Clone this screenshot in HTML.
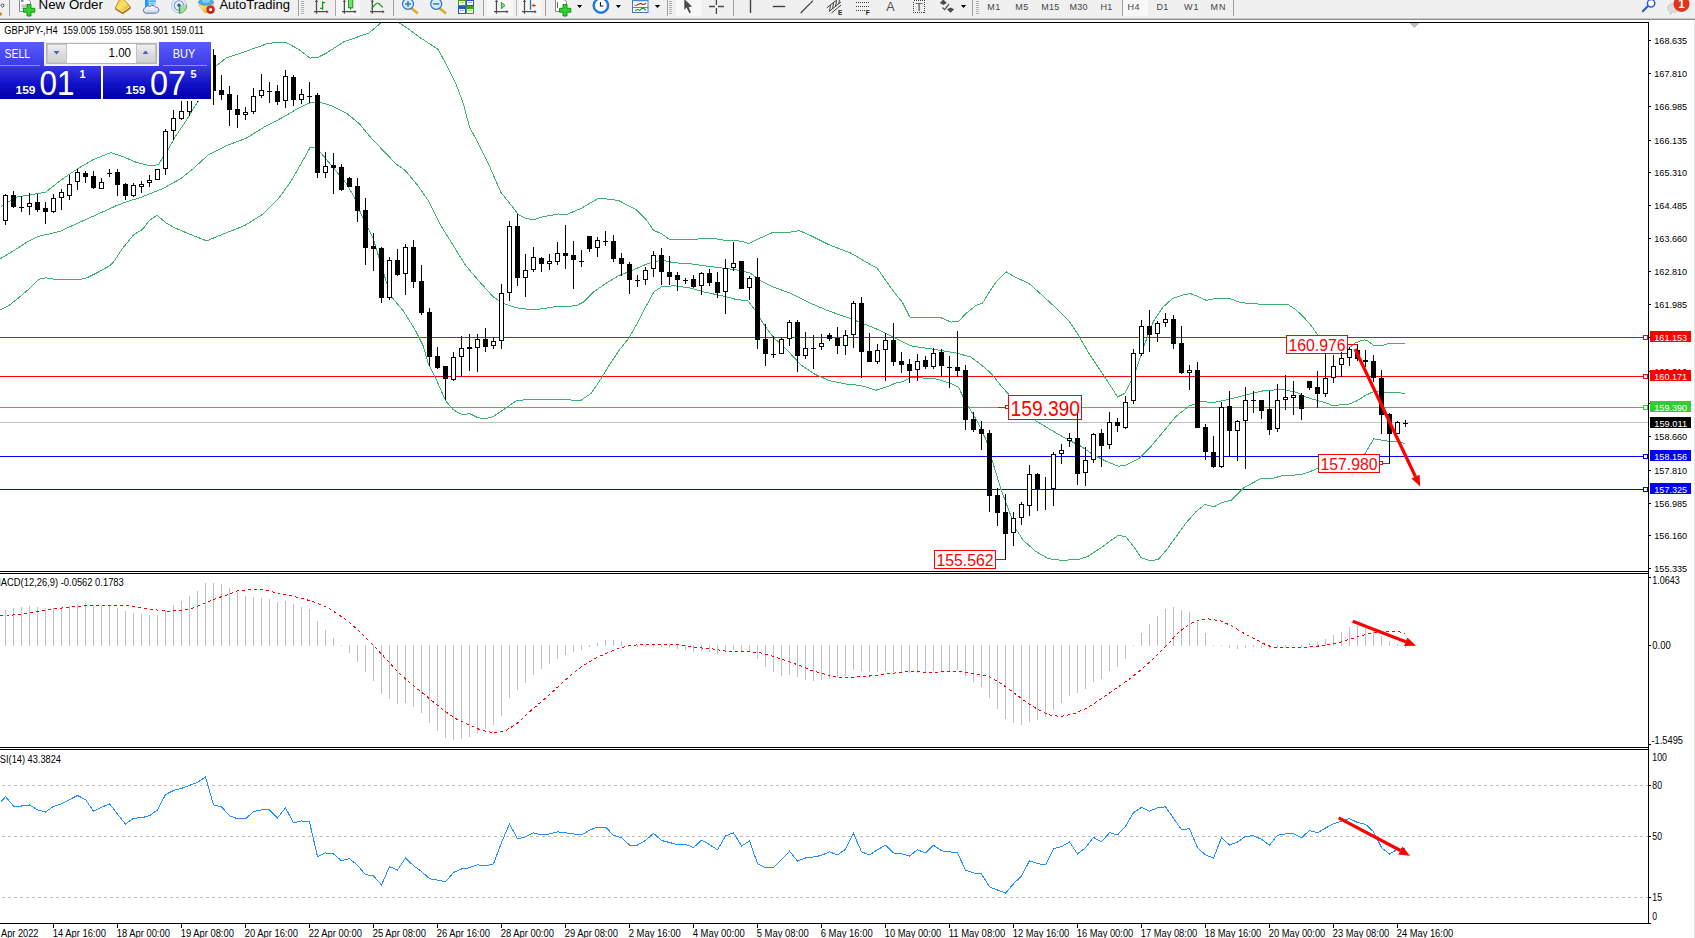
<!DOCTYPE html>
<html><head><meta charset="utf-8"><title>GBPJPY H4</title>
<style>
html,body{margin:0;padding:0;background:#fff;overflow:hidden}
svg{display:block;font-family:"Liberation Sans",sans-serif}
text{font-family:"Liberation Sans",sans-serif}
</style></head><body>
<svg width="1695" height="938" viewBox="0 0 1695 938">
<rect x="0" y="0" width="1695" height="938" fill="#fff" />
<g shape-rendering="crispEdges">
<rect x="0" y="422" width="1648" height="1" fill="#c0c0c0" />
<rect x="0" y="337" width="1648" height="1" fill="#ff0000" />
<rect x="0" y="376" width="1648" height="1" fill="#ff0000" />
<rect x="0" y="407" width="1648" height="1" fill="#32cd32" />
<rect x="0" y="456" width="1648" height="1" fill="#0000ff" />
<rect x="0" y="489" width="1648" height="1" fill="#0000ff" />
<g shape-rendering="crispEdges">
<polyline points="0.5,207.2 15.5,197.2 45.6,192.2 63.2,178.4 78.2,168.4 93.2,159.6 110.8,152.6 120.8,155.8 135.8,162.1 150.9,165.9 158.4,164.6 165.9,153.3 175.9,135.8 186.0,120.8 193.5,108.2 198.5,100.7 206.5,82.5 214.8,66.9 226.1,58.1 241.1,53.1 268.7,43.1 286.2,42.6 298.7,49.3 310.0,58.1 317.5,57.6 326.3,53.1 343.9,41.8 368.9,33.0 381.5,22.5 386.5,19.5 393.5,19.5 398.9,22.5 410.6,30.5 420.6,38.0 438.1,49.3 448.2,68.1 455.7,83.2 463.2,103.2 469.5,127.0 478.2,143.3 488.3,163.4 500.8,192.2 510.8,204.7 518.3,214.7 525.9,218.5 533.4,219.7 543.4,216.7 558.4,214.0 566.0,214.7 581.0,208.5 597.3,198.9 606.1,198.9 618.6,200.5 636.1,209.7 646.2,219.7 653.7,230.5 661.2,233.5 670.0,239.8 688.8,239.3 713.8,238.5 726.4,240.5 741.4,241.1 748.9,243.6 756.4,239.8 771.5,233.0 788.1,232.6 799.4,230.6 810.7,235.6 828.2,244.4 850.8,253.1 865.8,261.9 877.1,268.2 885.9,280.7 895.9,294.5 902.2,302.0 909.7,317.0 921.0,317.8 941.0,317.8 951.0,322.1 958.5,321.6 966.1,313.3 976.1,305.3 982.4,303.3 988.6,293.2 996.1,282.0 1006.2,271.9 1016.2,277.7 1028.7,283.2 1041.3,294.5 1056.3,308.3 1068.8,320.8 1078.8,335.8 1088.9,353.4 1098.9,368.4 1108.9,383.5 1117.7,397.0 1125.0,393.2 1130.7,381.9 1136.4,368.7 1143.9,346.0 1153.4,321.5 1162.8,307.3 1172.2,298.8 1181.7,295.4 1190.2,293.5 1196.8,296.0 1206.2,300.3 1213.8,298.8 1230.8,298.8 1240.2,302.6 1259.1,304.1 1287.4,304.1 1295.0,309.2 1302.5,315.8 1310.1,324.3 1317.6,334.7 1325.5,344.5 1333.5,350.5 1341.5,351.5 1348.6,348.4 1355.0,343.1 1360.4,341.0 1364.6,339.7 1367.8,341.0 1373.1,345.0 1383.8,345.0 1387.0,343.9 1405.1,343.9" fill="none" stroke="#3cb371" stroke-width="1" />
<polyline points="0.5,258.6 14.7,250.1 26.0,242.7 37.4,236.6 60.0,231.4 68.5,227.4 85.6,219.6 99.7,213.3 116.7,205.5 128.1,201.2 138.3,198.4 163.4,188.4 181.0,178.4 193.5,168.4 208.5,154.6 226.1,145.8 246.1,138.3 266.2,125.8 281.2,118.2 296.2,109.5 308.8,103.2 318.8,102.0 331.3,105.7 346.4,113.2 358.9,123.3 371.4,138.3 380.5,147.8 395.5,163.4 405.6,170.9 418.1,185.9 428.2,200.5 440.8,225.6 453.3,245.6 465.8,265.7 480.9,283.2 493.4,297.0 503.4,303.3 515.9,307.8 533.5,310.0 553.5,307.0 576.1,305.8 583.6,302.0 593.6,292.0 606.2,283.2 618.7,275.7 631.2,270.7 648.8,263.2 661.3,260.1 673.8,262.7 691.4,263.9 708.9,266.4 724.0,268.2 741.5,270.7 750.5,273.2 760.5,280.7 773.1,287.0 790.6,293.2 810.7,303.3 828.2,310.8 848.3,317.8 865.8,324.6 880.9,330.8 895.9,338.3 910.9,345.9 931.0,348.9 956.0,352.9 971.1,357.1 981.1,364.7 991.1,373.4 1001.2,386.0 1011.2,397.2 1022.5,408.5 1035.8,420.7 1050.9,430.0 1068.4,440.0 1081.0,446.3 1093.5,455.0 1106.0,461.3 1118.5,466.3 1126.1,465.1 1138.6,458.8 1151.1,446.3 1163.7,431.2 1176.2,416.2 1188.7,406.2 1201.3,401.7 1213.8,402.4 1226.3,399.9 1246.4,394.9 1261.4,391.1 1281.5,389.4 1296.5,392.4 1306.5,397.4 1324.1,402.4 1333.6,405.8 1341.5,404.7 1349.7,403.9 1357.2,400.7 1365.7,395.3 1373.1,391.8 1383.8,391.8 1387.0,392.9 1400.9,392.9 1405.1,394.1" fill="none" stroke="#3cb371" stroke-width="1" />
<polyline points="0.5,309.9 9.0,305.4 18.9,297.6 28.9,289.1 38.8,279.2 45.9,277.8 58.6,279.9 78.5,279.9 87.0,277.8 99.7,271.4 109.7,265.7 113.9,261.5 122.4,248.7 133.8,234.5 142.3,229.6 149.4,220.3 157.1,215.4 166.4,223.2 174.9,227.9 190.5,234.5 206.8,240.9 220.2,235.2 240.1,227.4 246.1,224.8 263.7,213.5 278.7,198.4 291.2,180.9 301.3,163.4 310.0,147.6 315.0,147.6 321.3,153.3 333.8,168.4 346.4,183.4 356.4,201.0 360.5,213.0 373.1,238.1 380.6,263.2 390.6,295.7 403.2,310.8 415.7,330.8 423.2,345.9 428.2,363.4 435.7,378.4 445.8,401.0 453.3,409.8 462.1,414.8 469.6,413.5 477.1,417.3 484.6,419.0 493.4,416.5 503.4,409.8 515.9,401.0 531.0,399.0 553.5,399.7 581.1,400.2 591.1,393.5 601.2,378.4 608.7,365.9 618.7,350.9 628.7,338.3 638.7,320.8 646.3,305.8 653.8,292.0 661.3,287.0 673.8,285.7 691.4,288.2 703.9,292.0 721.5,295.7 736.5,299.5 748.0,300.8 755.5,310.8 763.1,323.3 773.1,337.1 785.6,348.4 800.7,364.7 815.7,374.7 830.7,381.0 845.8,384.0 860.8,385.5 875.8,390.2 885.9,387.2 895.9,383.0 903.4,381.5 910.9,377.2 936.0,378.9 951.0,383.5 958.5,387.2 965.9,402.5 975.7,418.7 985.7,438.8 993.2,463.8 1000.8,488.9 1008.3,508.9 1015.8,529.0 1023.3,540.3 1035.8,551.5 1048.4,558.6 1060.9,560.3 1078.4,559.6 1088.5,556.0 1101.0,547.8 1111.0,540.3 1118.5,535.2 1126.1,537.0 1133.6,546.5 1141.1,557.8 1151.1,561.1 1158.6,559.1 1166.2,550.3 1176.2,536.5 1186.2,522.7 1196.2,511.4 1205.0,504.4 1213.8,506.9 1221.3,502.7 1231.3,500.2 1243.9,487.6 1261.4,478.3 1271.4,478.9 1281.5,475.8 1301.5,474.6 1314.0,470.1 1319.0,467.6 1340.5,462.5 1355.5,458.5 1364.8,453.8 1373.8,438.7 1378.6,439.7 1387.2,441.0 1397.3,441.0 1405.3,444.0" fill="none" stroke="#3cb371" stroke-width="1" />
</g>
</g>
<rect x="1008.5" y="395.5" width="73" height="24" fill="#fff" stroke="#ff0000" stroke-width="1" shape-rendering="crispEdges"/>
<text x="1010.5" y="415.5" font-size="22" fill="#ff0000" textLength="69.5" lengthAdjust="spacingAndGlyphs" >159.390</text>
<g shape-rendering="crispEdges">
<rect x="998" y="407" width="8" height="1" fill="#ff0000" />
<rect x="1005.5" y="405.5" width="3" height="3" fill="#fff" stroke="#ff0000"/>
</g>
<rect x="934.5" y="550.5" width="61" height="18" fill="#fff" stroke="#ff0000" stroke-width="1" shape-rendering="crispEdges"/>
<text x="936.5" y="565.6" font-size="16.5" fill="#ff0000" textLength="57" lengthAdjust="spacingAndGlyphs" >155.562</text>
<g shape-rendering="crispEdges">
<rect x="996" y="559" width="10" height="1" fill="#ff0000" />
</g>
<rect x="1286.5" y="335.5" width="61" height="18" fill="#fff" stroke="#ff0000" stroke-width="1" shape-rendering="crispEdges"/>
<text x="1288.5" y="350.6" font-size="16.5" fill="#ff0000" textLength="57" lengthAdjust="spacingAndGlyphs" >160.976</text>
<g shape-rendering="crispEdges">
<rect x="1348" y="344" width="10" height="1" fill="#ff0000" />
</g>
<rect x="1318.5" y="454.5" width="61" height="18" fill="#fff" stroke="#ff0000" stroke-width="1" shape-rendering="crispEdges"/>
<text x="1320.5" y="469.6" font-size="16.5" fill="#ff0000" textLength="57" lengthAdjust="spacingAndGlyphs" >157.980</text>
<g shape-rendering="crispEdges">
<rect x="1380" y="463" width="10" height="1" fill="#ff0000" />
<rect x="1379.5" y="461.5" width="3" height="3" fill="#fff" stroke="#ff0000"/>
</g>
<g shape-rendering="crispEdges">
<rect x="5" y="194" width="1" height="31" fill="#000" />
<rect x="3" y="195" width="5" height="26" fill="#000" />
<rect x="4" y="196" width="3" height="24" fill="#fff" />
<rect x="13" y="191" width="1" height="17" fill="#000" />
<rect x="11" y="195" width="5" height="12" fill="#000" />
<rect x="21" y="196" width="1" height="16" fill="#000" />
<rect x="19" y="207" width="5" height="1" fill="#000" />
<rect x="29" y="193" width="1" height="22" fill="#000" />
<rect x="27" y="203" width="5" height="4" fill="#000" />
<rect x="28" y="204" width="3" height="2" fill="#fff" />
<rect x="37" y="194" width="1" height="18" fill="#000" />
<rect x="35" y="202" width="5" height="8" fill="#000" />
<rect x="45" y="202" width="1" height="22" fill="#000" />
<rect x="43" y="208" width="5" height="4" fill="#000" />
<rect x="53" y="194" width="1" height="19" fill="#000" />
<rect x="51" y="198" width="5" height="14" fill="#000" />
<rect x="52" y="199" width="3" height="12" fill="#fff" />
<rect x="61" y="189" width="1" height="21" fill="#000" />
<rect x="59" y="192" width="5" height="6" fill="#000" />
<rect x="60" y="193" width="3" height="4" fill="#fff" />
<rect x="69" y="175" width="1" height="25" fill="#000" />
<rect x="67" y="184" width="5" height="12" fill="#000" />
<rect x="68" y="185" width="3" height="10" fill="#fff" />
<rect x="77" y="169" width="1" height="21" fill="#000" />
<rect x="75" y="172" width="5" height="10" fill="#000" />
<rect x="76" y="173" width="3" height="8" fill="#fff" />
<rect x="85" y="171" width="1" height="12" fill="#000" />
<rect x="83" y="173" width="5" height="4" fill="#000" />
<rect x="93" y="171" width="1" height="18" fill="#000" />
<rect x="91" y="176" width="5" height="12" fill="#000" />
<rect x="101" y="178" width="1" height="11" fill="#000" />
<rect x="99" y="182" width="5" height="7" fill="#000" />
<rect x="100" y="183" width="3" height="5" fill="#fff" />
<rect x="109" y="169" width="1" height="8" fill="#000" />
<rect x="107" y="173" width="5" height="1" fill="#000" />
<rect x="117" y="169" width="1" height="27" fill="#000" />
<rect x="115" y="172" width="5" height="13" fill="#000" />
<rect x="125" y="183" width="1" height="17" fill="#000" />
<rect x="123" y="184" width="5" height="12" fill="#000" />
<rect x="133" y="183" width="1" height="14" fill="#000" />
<rect x="131" y="185" width="5" height="11" fill="#000" />
<rect x="132" y="186" width="3" height="9" fill="#fff" />
<rect x="141" y="181" width="1" height="12" fill="#000" />
<rect x="139" y="184" width="5" height="3" fill="#000" />
<rect x="140" y="185" width="3" height="1" fill="#fff" />
<rect x="149" y="175" width="1" height="12" fill="#000" />
<rect x="147" y="180" width="5" height="3" fill="#000" />
<rect x="148" y="181" width="3" height="1" fill="#fff" />
<rect x="157" y="169" width="1" height="11" fill="#000" />
<rect x="155" y="169" width="5" height="11" fill="#000" />
<rect x="156" y="170" width="3" height="9" fill="#fff" />
<rect x="165" y="129" width="1" height="46" fill="#000" />
<rect x="163" y="131" width="5" height="38" fill="#000" />
<rect x="164" y="132" width="3" height="36" fill="#fff" />
<rect x="173" y="110" width="1" height="30" fill="#000" />
<rect x="171" y="118" width="5" height="13" fill="#000" />
<rect x="172" y="119" width="3" height="11" fill="#fff" />
<rect x="181" y="101" width="1" height="19" fill="#000" />
<rect x="179" y="111" width="5" height="8" fill="#000" />
<rect x="180" y="112" width="3" height="6" fill="#fff" />
<rect x="189" y="88" width="1" height="28" fill="#000" />
<rect x="187" y="100" width="5" height="12" fill="#000" />
<rect x="188" y="101" width="3" height="10" fill="#fff" />
<rect x="197" y="70" width="1" height="32" fill="#000" />
<rect x="195" y="78" width="5" height="22" fill="#000" />
<rect x="196" y="79" width="3" height="20" fill="#fff" />
<rect x="205" y="52" width="1" height="28" fill="#000" />
<rect x="203" y="56" width="5" height="22" fill="#000" />
<rect x="204" y="57" width="3" height="20" fill="#fff" />
<rect x="213" y="49" width="1" height="56" fill="#000" />
<rect x="211" y="55" width="5" height="36" fill="#000" />
<rect x="221" y="75" width="1" height="25" fill="#000" />
<rect x="219" y="90" width="5" height="5" fill="#000" />
<rect x="229" y="86" width="1" height="40" fill="#000" />
<rect x="227" y="94" width="5" height="16" fill="#000" />
<rect x="237" y="95" width="1" height="33" fill="#000" />
<rect x="235" y="109" width="5" height="6" fill="#000" />
<rect x="245" y="107" width="1" height="13" fill="#000" />
<rect x="243" y="112" width="5" height="3" fill="#000" />
<rect x="244" y="113" width="3" height="1" fill="#fff" />
<rect x="253" y="88" width="1" height="26" fill="#000" />
<rect x="251" y="96" width="5" height="16" fill="#000" />
<rect x="252" y="97" width="3" height="14" fill="#fff" />
<rect x="261" y="74" width="1" height="24" fill="#000" />
<rect x="259" y="90" width="5" height="6" fill="#000" />
<rect x="260" y="91" width="3" height="4" fill="#fff" />
<rect x="269" y="82" width="1" height="21" fill="#000" />
<rect x="267" y="91" width="5" height="1" fill="#000" />
<rect x="277" y="85" width="1" height="20" fill="#000" />
<rect x="275" y="91" width="5" height="11" fill="#000" />
<rect x="285" y="70" width="1" height="38" fill="#000" />
<rect x="283" y="76" width="5" height="25" fill="#000" />
<rect x="284" y="77" width="3" height="23" fill="#fff" />
<rect x="293" y="75" width="1" height="31" fill="#000" />
<rect x="291" y="77" width="5" height="23" fill="#000" />
<rect x="301" y="89" width="1" height="15" fill="#000" />
<rect x="299" y="94" width="5" height="6" fill="#000" />
<rect x="300" y="95" width="3" height="4" fill="#fff" />
<rect x="309" y="82" width="1" height="21" fill="#000" />
<rect x="307" y="96" width="5" height="1" fill="#000" />
<rect x="317" y="93" width="1" height="85" fill="#000" />
<rect x="315" y="95" width="5" height="78" fill="#000" />
<rect x="325" y="152" width="1" height="26" fill="#000" />
<rect x="323" y="166" width="5" height="7" fill="#000" />
<rect x="324" y="167" width="3" height="5" fill="#fff" />
<rect x="333" y="153" width="1" height="41" fill="#000" />
<rect x="331" y="165" width="5" height="3" fill="#000" />
<rect x="341" y="164" width="1" height="27" fill="#000" />
<rect x="339" y="167" width="5" height="23" fill="#000" />
<rect x="349" y="177" width="1" height="10" fill="#000" />
<rect x="347" y="178" width="5" height="9" fill="#000" />
<rect x="357" y="178" width="1" height="44" fill="#000" />
<rect x="355" y="186" width="5" height="25" fill="#000" />
<rect x="365" y="198" width="1" height="67" fill="#000" />
<rect x="363" y="210" width="5" height="38" fill="#000" />
<rect x="373" y="233" width="1" height="38" fill="#000" />
<rect x="371" y="246" width="5" height="3" fill="#000" />
<rect x="381" y="247" width="1" height="56" fill="#000" />
<rect x="379" y="248" width="5" height="50" fill="#000" />
<rect x="389" y="257" width="1" height="43" fill="#000" />
<rect x="387" y="260" width="5" height="38" fill="#000" />
<rect x="388" y="261" width="3" height="36" fill="#fff" />
<rect x="397" y="249" width="1" height="27" fill="#000" />
<rect x="395" y="260" width="5" height="15" fill="#000" />
<rect x="405" y="244" width="1" height="51" fill="#000" />
<rect x="403" y="247" width="5" height="27" fill="#000" />
<rect x="404" y="248" width="3" height="25" fill="#fff" />
<rect x="413" y="240" width="1" height="48" fill="#000" />
<rect x="411" y="247" width="5" height="35" fill="#000" />
<rect x="421" y="265" width="1" height="50" fill="#000" />
<rect x="419" y="281" width="5" height="32" fill="#000" />
<rect x="429" y="308" width="1" height="58" fill="#000" />
<rect x="427" y="312" width="5" height="45" fill="#000" />
<rect x="437" y="347" width="1" height="22" fill="#000" />
<rect x="435" y="356" width="5" height="12" fill="#000" />
<rect x="445" y="366" width="1" height="34" fill="#000" />
<rect x="443" y="366" width="5" height="13" fill="#000" />
<rect x="453" y="352" width="1" height="29" fill="#000" />
<rect x="451" y="357" width="5" height="23" fill="#000" />
<rect x="452" y="358" width="3" height="21" fill="#fff" />
<rect x="461" y="336" width="1" height="40" fill="#000" />
<rect x="459" y="348" width="5" height="9" fill="#000" />
<rect x="460" y="349" width="3" height="7" fill="#fff" />
<rect x="469" y="334" width="1" height="37" fill="#000" />
<rect x="467" y="347" width="5" height="2" fill="#000" />
<rect x="477" y="334" width="1" height="38" fill="#000" />
<rect x="475" y="339" width="5" height="9" fill="#000" />
<rect x="476" y="340" width="3" height="7" fill="#fff" />
<rect x="485" y="328" width="1" height="24" fill="#000" />
<rect x="483" y="339" width="5" height="8" fill="#000" />
<rect x="493" y="337" width="1" height="12" fill="#000" />
<rect x="491" y="341" width="5" height="5" fill="#000" />
<rect x="492" y="342" width="3" height="3" fill="#fff" />
<rect x="501" y="284" width="1" height="65" fill="#000" />
<rect x="499" y="293" width="5" height="48" fill="#000" />
<rect x="500" y="294" width="3" height="46" fill="#fff" />
<rect x="509" y="221" width="1" height="80" fill="#000" />
<rect x="507" y="226" width="5" height="67" fill="#000" />
<rect x="508" y="227" width="3" height="65" fill="#fff" />
<rect x="517" y="214" width="1" height="72" fill="#000" />
<rect x="515" y="226" width="5" height="52" fill="#000" />
<rect x="525" y="254" width="1" height="43" fill="#000" />
<rect x="523" y="270" width="5" height="8" fill="#000" />
<rect x="524" y="271" width="3" height="6" fill="#fff" />
<rect x="533" y="247" width="1" height="25" fill="#000" />
<rect x="531" y="257" width="5" height="13" fill="#000" />
<rect x="532" y="258" width="3" height="11" fill="#fff" />
<rect x="541" y="257" width="1" height="15" fill="#000" />
<rect x="539" y="258" width="5" height="6" fill="#000" />
<rect x="549" y="254" width="1" height="16" fill="#000" />
<rect x="547" y="261" width="5" height="3" fill="#000" />
<rect x="548" y="262" width="3" height="1" fill="#fff" />
<rect x="557" y="242" width="1" height="23" fill="#000" />
<rect x="555" y="253" width="5" height="9" fill="#000" />
<rect x="556" y="254" width="3" height="7" fill="#fff" />
<rect x="565" y="225" width="1" height="44" fill="#000" />
<rect x="563" y="253" width="5" height="3" fill="#000" />
<rect x="573" y="241" width="1" height="48" fill="#000" />
<rect x="571" y="255" width="5" height="5" fill="#000" />
<rect x="581" y="250" width="1" height="17" fill="#000" />
<rect x="579" y="261" width="5" height="1" fill="#000" />
<rect x="589" y="236" width="1" height="16" fill="#000" />
<rect x="587" y="236" width="5" height="13" fill="#000" />
<rect x="597" y="237" width="1" height="20" fill="#000" />
<rect x="595" y="240" width="5" height="8" fill="#000" />
<rect x="596" y="241" width="3" height="6" fill="#fff" />
<rect x="605" y="231" width="1" height="15" fill="#000" />
<rect x="603" y="241" width="5" height="1" fill="#000" />
<rect x="613" y="235" width="1" height="27" fill="#000" />
<rect x="611" y="241" width="5" height="18" fill="#000" />
<rect x="621" y="253" width="1" height="23" fill="#000" />
<rect x="619" y="258" width="5" height="6" fill="#000" />
<rect x="629" y="262" width="1" height="32" fill="#000" />
<rect x="627" y="264" width="5" height="16" fill="#000" />
<rect x="637" y="275" width="1" height="12" fill="#000" />
<rect x="635" y="280" width="5" height="1" fill="#000" />
<rect x="645" y="267" width="1" height="18" fill="#000" />
<rect x="643" y="270" width="5" height="10" fill="#000" />
<rect x="644" y="271" width="3" height="8" fill="#fff" />
<rect x="653" y="251" width="1" height="26" fill="#000" />
<rect x="651" y="255" width="5" height="14" fill="#000" />
<rect x="652" y="256" width="3" height="12" fill="#fff" />
<rect x="661" y="248" width="1" height="37" fill="#000" />
<rect x="659" y="255" width="5" height="17" fill="#000" />
<rect x="669" y="256" width="1" height="29" fill="#000" />
<rect x="667" y="272" width="5" height="5" fill="#000" />
<rect x="677" y="272" width="1" height="19" fill="#000" />
<rect x="675" y="275" width="5" height="5" fill="#000" />
<rect x="685" y="278" width="1" height="6" fill="#000" />
<rect x="683" y="280" width="5" height="1" fill="#000" />
<rect x="693" y="275" width="1" height="13" fill="#000" />
<rect x="691" y="279" width="5" height="8" fill="#000" />
<rect x="701" y="272" width="1" height="23" fill="#000" />
<rect x="699" y="273" width="5" height="13" fill="#000" />
<rect x="700" y="274" width="3" height="11" fill="#fff" />
<rect x="709" y="269" width="1" height="17" fill="#000" />
<rect x="707" y="273" width="5" height="10" fill="#000" />
<rect x="717" y="272" width="1" height="26" fill="#000" />
<rect x="715" y="282" width="5" height="11" fill="#000" />
<rect x="725" y="259" width="1" height="55" fill="#000" />
<rect x="723" y="268" width="5" height="24" fill="#000" />
<rect x="724" y="269" width="3" height="22" fill="#fff" />
<rect x="733" y="242" width="1" height="29" fill="#000" />
<rect x="731" y="263" width="5" height="5" fill="#000" />
<rect x="732" y="264" width="3" height="3" fill="#fff" />
<rect x="741" y="261" width="1" height="28" fill="#000" />
<rect x="739" y="261" width="5" height="28" fill="#000" />
<rect x="749" y="276" width="1" height="24" fill="#000" />
<rect x="747" y="278" width="5" height="10" fill="#000" />
<rect x="748" y="279" width="3" height="8" fill="#fff" />
<rect x="757" y="258" width="1" height="91" fill="#000" />
<rect x="755" y="277" width="5" height="63" fill="#000" />
<rect x="765" y="324" width="1" height="42" fill="#000" />
<rect x="763" y="339" width="5" height="15" fill="#000" />
<rect x="773" y="336" width="1" height="22" fill="#000" />
<rect x="771" y="354" width="5" height="1" fill="#000" />
<rect x="781" y="337" width="1" height="17" fill="#000" />
<rect x="779" y="339" width="5" height="15" fill="#000" />
<rect x="780" y="340" width="3" height="13" fill="#fff" />
<rect x="789" y="320" width="1" height="26" fill="#000" />
<rect x="787" y="322" width="5" height="17" fill="#000" />
<rect x="788" y="323" width="3" height="15" fill="#fff" />
<rect x="797" y="320" width="1" height="52" fill="#000" />
<rect x="795" y="322" width="5" height="34" fill="#000" />
<rect x="805" y="332" width="1" height="27" fill="#000" />
<rect x="803" y="348" width="5" height="8" fill="#000" />
<rect x="804" y="349" width="3" height="6" fill="#fff" />
<rect x="813" y="335" width="1" height="34" fill="#000" />
<rect x="811" y="348" width="5" height="1" fill="#000" />
<rect x="821" y="334" width="1" height="16" fill="#000" />
<rect x="819" y="343" width="5" height="4" fill="#000" />
<rect x="820" y="344" width="3" height="2" fill="#fff" />
<rect x="829" y="333" width="1" height="8" fill="#000" />
<rect x="827" y="335" width="5" height="4" fill="#000" />
<rect x="837" y="327" width="1" height="27" fill="#000" />
<rect x="835" y="338" width="5" height="8" fill="#000" />
<rect x="845" y="330" width="1" height="25" fill="#000" />
<rect x="843" y="335" width="5" height="11" fill="#000" />
<rect x="844" y="336" width="3" height="9" fill="#fff" />
<rect x="853" y="301" width="1" height="47" fill="#000" />
<rect x="851" y="303" width="5" height="32" fill="#000" />
<rect x="852" y="304" width="3" height="30" fill="#fff" />
<rect x="861" y="297" width="1" height="81" fill="#000" />
<rect x="859" y="303" width="5" height="49" fill="#000" />
<rect x="869" y="333" width="1" height="29" fill="#000" />
<rect x="867" y="351" width="5" height="11" fill="#000" />
<rect x="877" y="344" width="1" height="20" fill="#000" />
<rect x="875" y="350" width="5" height="12" fill="#000" />
<rect x="876" y="351" width="3" height="10" fill="#fff" />
<rect x="885" y="333" width="1" height="48" fill="#000" />
<rect x="883" y="340" width="5" height="10" fill="#000" />
<rect x="884" y="341" width="3" height="8" fill="#fff" />
<rect x="893" y="323" width="1" height="43" fill="#000" />
<rect x="891" y="340" width="5" height="22" fill="#000" />
<rect x="901" y="352" width="1" height="21" fill="#000" />
<rect x="899" y="361" width="5" height="4" fill="#000" />
<rect x="909" y="359" width="1" height="24" fill="#000" />
<rect x="907" y="364" width="5" height="7" fill="#000" />
<rect x="917" y="354" width="1" height="27" fill="#000" />
<rect x="915" y="361" width="5" height="9" fill="#000" />
<rect x="916" y="362" width="3" height="7" fill="#fff" />
<rect x="925" y="356" width="1" height="13" fill="#000" />
<rect x="923" y="360" width="5" height="7" fill="#000" />
<rect x="933" y="348" width="1" height="21" fill="#000" />
<rect x="931" y="353" width="5" height="14" fill="#000" />
<rect x="932" y="354" width="3" height="12" fill="#fff" />
<rect x="941" y="349" width="1" height="27" fill="#000" />
<rect x="939" y="352" width="5" height="14" fill="#000" />
<rect x="949" y="356" width="1" height="32" fill="#000" />
<rect x="947" y="367" width="5" height="1" fill="#000" />
<rect x="957" y="331" width="1" height="46" fill="#000" />
<rect x="955" y="367" width="5" height="4" fill="#000" />
<rect x="965" y="365" width="1" height="65" fill="#000" />
<rect x="963" y="370" width="5" height="50" fill="#000" />
<rect x="973" y="412" width="1" height="20" fill="#000" />
<rect x="971" y="419" width="5" height="11" fill="#000" />
<rect x="981" y="421" width="1" height="29" fill="#000" />
<rect x="979" y="429" width="5" height="5" fill="#000" />
<rect x="989" y="430" width="1" height="82" fill="#000" />
<rect x="987" y="433" width="5" height="63" fill="#000" />
<rect x="997" y="488" width="1" height="38" fill="#000" />
<rect x="995" y="495" width="5" height="18" fill="#000" />
<rect x="1005" y="494" width="1" height="66" fill="#000" />
<rect x="1003" y="512" width="5" height="22" fill="#000" />
<rect x="1013" y="512" width="1" height="34" fill="#000" />
<rect x="1011" y="518" width="5" height="15" fill="#000" />
<rect x="1012" y="519" width="3" height="13" fill="#fff" />
<rect x="1021" y="502" width="1" height="23" fill="#000" />
<rect x="1019" y="504" width="5" height="14" fill="#000" />
<rect x="1020" y="505" width="3" height="12" fill="#fff" />
<rect x="1029" y="465" width="1" height="51" fill="#000" />
<rect x="1027" y="474" width="5" height="32" fill="#000" />
<rect x="1028" y="475" width="3" height="30" fill="#fff" />
<rect x="1037" y="473" width="1" height="38" fill="#000" />
<rect x="1035" y="474" width="5" height="15" fill="#000" />
<rect x="1045" y="477" width="1" height="33" fill="#000" />
<rect x="1043" y="489" width="5" height="1" fill="#000" />
<rect x="1053" y="452" width="1" height="54" fill="#000" />
<rect x="1051" y="454" width="5" height="35" fill="#000" />
<rect x="1052" y="455" width="3" height="33" fill="#fff" />
<rect x="1061" y="444" width="1" height="20" fill="#000" />
<rect x="1059" y="450" width="5" height="4" fill="#000" />
<rect x="1060" y="451" width="3" height="2" fill="#fff" />
<rect x="1069" y="433" width="1" height="14" fill="#000" />
<rect x="1067" y="438" width="5" height="3" fill="#000" />
<rect x="1068" y="439" width="3" height="1" fill="#fff" />
<rect x="1077" y="414" width="1" height="71" fill="#000" />
<rect x="1075" y="438" width="5" height="36" fill="#000" />
<rect x="1085" y="447" width="1" height="39" fill="#000" />
<rect x="1083" y="460" width="5" height="13" fill="#000" />
<rect x="1084" y="461" width="3" height="11" fill="#fff" />
<rect x="1093" y="433" width="1" height="30" fill="#000" />
<rect x="1091" y="434" width="5" height="26" fill="#000" />
<rect x="1092" y="435" width="3" height="24" fill="#fff" />
<rect x="1101" y="429" width="1" height="38" fill="#000" />
<rect x="1099" y="433" width="5" height="13" fill="#000" />
<rect x="1109" y="412" width="1" height="37" fill="#000" />
<rect x="1107" y="422" width="5" height="23" fill="#000" />
<rect x="1108" y="423" width="3" height="21" fill="#fff" />
<rect x="1117" y="418" width="1" height="14" fill="#000" />
<rect x="1115" y="422" width="5" height="4" fill="#000" />
<rect x="1125" y="396" width="1" height="33" fill="#000" />
<rect x="1123" y="402" width="5" height="26" fill="#000" />
<rect x="1124" y="403" width="3" height="24" fill="#fff" />
<rect x="1133" y="349" width="1" height="55" fill="#000" />
<rect x="1131" y="353" width="5" height="48" fill="#000" />
<rect x="1132" y="354" width="3" height="46" fill="#fff" />
<rect x="1141" y="320" width="1" height="36" fill="#000" />
<rect x="1139" y="326" width="5" height="28" fill="#000" />
<rect x="1140" y="327" width="3" height="26" fill="#fff" />
<rect x="1149" y="310" width="1" height="42" fill="#000" />
<rect x="1147" y="326" width="5" height="9" fill="#000" />
<rect x="1157" y="321" width="1" height="21" fill="#000" />
<rect x="1155" y="323" width="5" height="11" fill="#000" />
<rect x="1156" y="324" width="3" height="9" fill="#fff" />
<rect x="1165" y="313" width="1" height="14" fill="#000" />
<rect x="1163" y="319" width="5" height="4" fill="#000" />
<rect x="1164" y="320" width="3" height="2" fill="#fff" />
<rect x="1173" y="315" width="1" height="34" fill="#000" />
<rect x="1171" y="319" width="5" height="25" fill="#000" />
<rect x="1181" y="326" width="1" height="48" fill="#000" />
<rect x="1179" y="343" width="5" height="30" fill="#000" />
<rect x="1189" y="365" width="1" height="25" fill="#000" />
<rect x="1187" y="370" width="5" height="3" fill="#000" />
<rect x="1188" y="371" width="3" height="1" fill="#fff" />
<rect x="1197" y="362" width="1" height="66" fill="#000" />
<rect x="1195" y="370" width="5" height="58" fill="#000" />
<rect x="1205" y="424" width="1" height="36" fill="#000" />
<rect x="1203" y="427" width="5" height="25" fill="#000" />
<rect x="1213" y="436" width="1" height="32" fill="#000" />
<rect x="1211" y="452" width="5" height="15" fill="#000" />
<rect x="1221" y="402" width="1" height="66" fill="#000" />
<rect x="1219" y="407" width="5" height="60" fill="#000" />
<rect x="1220" y="408" width="3" height="58" fill="#fff" />
<rect x="1229" y="391" width="1" height="65" fill="#000" />
<rect x="1227" y="406" width="5" height="25" fill="#000" />
<rect x="1237" y="420" width="1" height="41" fill="#000" />
<rect x="1235" y="421" width="5" height="10" fill="#000" />
<rect x="1236" y="422" width="3" height="8" fill="#fff" />
<rect x="1245" y="387" width="1" height="82" fill="#000" />
<rect x="1243" y="400" width="5" height="21" fill="#000" />
<rect x="1244" y="401" width="3" height="19" fill="#fff" />
<rect x="1253" y="391" width="1" height="22" fill="#000" />
<rect x="1251" y="400" width="5" height="1" fill="#000" />
<rect x="1261" y="400" width="1" height="19" fill="#000" />
<rect x="1259" y="400" width="5" height="11" fill="#000" />
<rect x="1269" y="391" width="1" height="44" fill="#000" />
<rect x="1267" y="409" width="5" height="21" fill="#000" />
<rect x="1277" y="384" width="1" height="48" fill="#000" />
<rect x="1275" y="400" width="5" height="29" fill="#000" />
<rect x="1276" y="401" width="3" height="27" fill="#fff" />
<rect x="1285" y="375" width="1" height="35" fill="#000" />
<rect x="1283" y="397" width="5" height="3" fill="#000" />
<rect x="1284" y="398" width="3" height="1" fill="#fff" />
<rect x="1293" y="381" width="1" height="34" fill="#000" />
<rect x="1291" y="395" width="5" height="3" fill="#000" />
<rect x="1292" y="396" width="3" height="1" fill="#fff" />
<rect x="1301" y="393" width="1" height="27" fill="#000" />
<rect x="1299" y="395" width="5" height="14" fill="#000" />
<rect x="1309" y="381" width="1" height="9" fill="#000" />
<rect x="1307" y="381" width="5" height="7" fill="#000" />
<rect x="1317" y="371" width="1" height="37" fill="#000" />
<rect x="1315" y="387" width="5" height="7" fill="#000" />
<rect x="1325" y="353" width="1" height="44" fill="#000" />
<rect x="1323" y="378" width="5" height="16" fill="#000" />
<rect x="1324" y="379" width="3" height="14" fill="#fff" />
<rect x="1333" y="355" width="1" height="28" fill="#000" />
<rect x="1331" y="366" width="5" height="12" fill="#000" />
<rect x="1332" y="367" width="3" height="10" fill="#fff" />
<rect x="1341" y="352" width="1" height="25" fill="#000" />
<rect x="1339" y="358" width="5" height="7" fill="#000" />
<rect x="1340" y="359" width="3" height="5" fill="#fff" />
<rect x="1349" y="347" width="1" height="19" fill="#000" />
<rect x="1347" y="349" width="5" height="9" fill="#000" />
<rect x="1348" y="350" width="3" height="7" fill="#fff" />
<rect x="1357" y="344" width="1" height="17" fill="#000" />
<rect x="1355" y="350" width="5" height="9" fill="#000" />
<rect x="1365" y="350" width="1" height="17" fill="#000" />
<rect x="1363" y="360" width="5" height="2" fill="#000" />
<rect x="1373" y="355" width="1" height="27" fill="#000" />
<rect x="1371" y="361" width="5" height="17" fill="#000" />
<rect x="1381" y="370" width="1" height="64" fill="#000" />
<rect x="1379" y="378" width="5" height="37" fill="#000" />
<rect x="1389" y="413" width="1" height="51" fill="#000" />
<rect x="1387" y="414" width="5" height="20" fill="#000" />
<rect x="1397" y="421" width="1" height="13" fill="#000" />
<rect x="1395" y="422" width="5" height="12" fill="#000" />
<rect x="1396" y="423" width="3" height="10" fill="#fff" />
<rect x="1405" y="420" width="1" height="7" fill="#000" />
<rect x="1403" y="423" width="5" height="1" fill="#000" />
<rect x="5" y="610" width="1" height="36" fill="#c0c0c0" />
<rect x="13" y="608" width="1" height="38" fill="#c0c0c0" />
<rect x="21" y="607" width="1" height="39" fill="#c0c0c0" />
<rect x="29" y="606" width="1" height="40" fill="#c0c0c0" />
<rect x="37" y="607" width="1" height="39" fill="#c0c0c0" />
<rect x="45" y="608" width="1" height="38" fill="#c0c0c0" />
<rect x="53" y="608" width="1" height="38" fill="#c0c0c0" />
<rect x="61" y="607" width="1" height="39" fill="#c0c0c0" />
<rect x="69" y="606" width="1" height="40" fill="#c0c0c0" />
<rect x="77" y="604" width="1" height="42" fill="#c0c0c0" />
<rect x="85" y="603" width="1" height="43" fill="#c0c0c0" />
<rect x="93" y="605" width="1" height="41" fill="#c0c0c0" />
<rect x="101" y="606" width="1" height="40" fill="#c0c0c0" />
<rect x="109" y="606" width="1" height="40" fill="#c0c0c0" />
<rect x="117" y="608" width="1" height="38" fill="#c0c0c0" />
<rect x="125" y="611" width="1" height="35" fill="#c0c0c0" />
<rect x="133" y="613" width="1" height="33" fill="#c0c0c0" />
<rect x="141" y="614" width="1" height="32" fill="#c0c0c0" />
<rect x="149" y="615" width="1" height="31" fill="#c0c0c0" />
<rect x="157" y="615" width="1" height="31" fill="#c0c0c0" />
<rect x="165" y="611" width="1" height="35" fill="#c0c0c0" />
<rect x="173" y="605" width="1" height="41" fill="#c0c0c0" />
<rect x="181" y="601" width="1" height="45" fill="#c0c0c0" />
<rect x="189" y="596" width="1" height="50" fill="#c0c0c0" />
<rect x="197" y="591" width="1" height="55" fill="#c0c0c0" />
<rect x="205" y="583" width="1" height="63" fill="#c0c0c0" />
<rect x="213" y="583" width="1" height="63" fill="#c0c0c0" />
<rect x="221" y="584" width="1" height="62" fill="#c0c0c0" />
<rect x="229" y="588" width="1" height="58" fill="#c0c0c0" />
<rect x="237" y="592" width="1" height="54" fill="#c0c0c0" />
<rect x="245" y="596" width="1" height="50" fill="#c0c0c0" />
<rect x="253" y="597" width="1" height="49" fill="#c0c0c0" />
<rect x="261" y="598" width="1" height="48" fill="#c0c0c0" />
<rect x="269" y="599" width="1" height="47" fill="#c0c0c0" />
<rect x="277" y="602" width="1" height="44" fill="#c0c0c0" />
<rect x="285" y="601" width="1" height="45" fill="#c0c0c0" />
<rect x="293" y="604" width="1" height="42" fill="#c0c0c0" />
<rect x="301" y="607" width="1" height="39" fill="#c0c0c0" />
<rect x="309" y="609" width="1" height="37" fill="#c0c0c0" />
<rect x="317" y="621" width="1" height="25" fill="#c0c0c0" />
<rect x="325" y="630" width="1" height="16" fill="#c0c0c0" />
<rect x="333" y="638" width="1" height="8" fill="#c0c0c0" />
<rect x="341" y="645" width="1" height="1" fill="#c0c0c0" />
<rect x="349" y="645" width="1" height="8" fill="#c0c0c0" />
<rect x="357" y="645" width="1" height="17" fill="#c0c0c0" />
<rect x="365" y="645" width="1" height="27" fill="#c0c0c0" />
<rect x="373" y="645" width="1" height="36" fill="#c0c0c0" />
<rect x="381" y="645" width="1" height="49" fill="#c0c0c0" />
<rect x="389" y="645" width="1" height="54" fill="#c0c0c0" />
<rect x="397" y="645" width="1" height="59" fill="#c0c0c0" />
<rect x="405" y="645" width="1" height="58" fill="#c0c0c0" />
<rect x="413" y="645" width="1" height="62" fill="#c0c0c0" />
<rect x="421" y="645" width="1" height="68" fill="#c0c0c0" />
<rect x="429" y="645" width="1" height="78" fill="#c0c0c0" />
<rect x="437" y="645" width="1" height="86" fill="#c0c0c0" />
<rect x="445" y="645" width="1" height="93" fill="#c0c0c0" />
<rect x="453" y="645" width="1" height="95" fill="#c0c0c0" />
<rect x="461" y="645" width="1" height="94" fill="#c0c0c0" />
<rect x="469" y="645" width="1" height="92" fill="#c0c0c0" />
<rect x="477" y="645" width="1" height="88" fill="#c0c0c0" />
<rect x="485" y="645" width="1" height="84" fill="#c0c0c0" />
<rect x="493" y="645" width="1" height="80" fill="#c0c0c0" />
<rect x="501" y="645" width="1" height="71" fill="#c0c0c0" />
<rect x="509" y="645" width="1" height="53" fill="#c0c0c0" />
<rect x="517" y="645" width="1" height="45" fill="#c0c0c0" />
<rect x="525" y="645" width="1" height="38" fill="#c0c0c0" />
<rect x="533" y="645" width="1" height="30" fill="#c0c0c0" />
<rect x="541" y="645" width="1" height="24" fill="#c0c0c0" />
<rect x="549" y="645" width="1" height="19" fill="#c0c0c0" />
<rect x="557" y="645" width="1" height="14" fill="#c0c0c0" />
<rect x="565" y="645" width="1" height="10" fill="#c0c0c0" />
<rect x="573" y="645" width="1" height="7" fill="#c0c0c0" />
<rect x="581" y="645" width="1" height="5" fill="#c0c0c0" />
<rect x="589" y="645" width="1" height="2" fill="#c0c0c0" />
<rect x="597" y="643" width="1" height="3" fill="#c0c0c0" />
<rect x="605" y="640" width="1" height="6" fill="#c0c0c0" />
<rect x="613" y="640" width="1" height="6" fill="#c0c0c0" />
<rect x="621" y="641" width="1" height="5" fill="#c0c0c0" />
<rect x="629" y="645" width="1" height="1" fill="#c0c0c0" />
<rect x="637" y="645" width="1" height="2" fill="#c0c0c0" />
<rect x="645" y="645" width="1" height="2" fill="#c0c0c0" />
<rect x="653" y="645" width="1" height="2" fill="#c0c0c0" />
<rect x="661" y="645" width="1" height="2" fill="#c0c0c0" />
<rect x="669" y="645" width="1" height="3" fill="#c0c0c0" />
<rect x="677" y="645" width="1" height="4" fill="#c0c0c0" />
<rect x="685" y="645" width="1" height="5" fill="#c0c0c0" />
<rect x="693" y="645" width="1" height="7" fill="#c0c0c0" />
<rect x="701" y="645" width="1" height="6" fill="#c0c0c0" />
<rect x="709" y="645" width="1" height="7" fill="#c0c0c0" />
<rect x="717" y="645" width="1" height="9" fill="#c0c0c0" />
<rect x="725" y="645" width="1" height="6" fill="#c0c0c0" />
<rect x="733" y="645" width="1" height="5" fill="#c0c0c0" />
<rect x="741" y="645" width="1" height="6" fill="#c0c0c0" />
<rect x="749" y="645" width="1" height="6" fill="#c0c0c0" />
<rect x="757" y="645" width="1" height="14" fill="#c0c0c0" />
<rect x="765" y="645" width="1" height="22" fill="#c0c0c0" />
<rect x="773" y="645" width="1" height="27" fill="#c0c0c0" />
<rect x="781" y="645" width="1" height="31" fill="#c0c0c0" />
<rect x="789" y="645" width="1" height="30" fill="#c0c0c0" />
<rect x="797" y="645" width="1" height="32" fill="#c0c0c0" />
<rect x="805" y="645" width="1" height="35" fill="#c0c0c0" />
<rect x="813" y="645" width="1" height="36" fill="#c0c0c0" />
<rect x="821" y="645" width="1" height="35" fill="#c0c0c0" />
<rect x="829" y="645" width="1" height="34" fill="#c0c0c0" />
<rect x="837" y="645" width="1" height="32" fill="#c0c0c0" />
<rect x="845" y="645" width="1" height="31" fill="#c0c0c0" />
<rect x="853" y="645" width="1" height="25" fill="#c0c0c0" />
<rect x="861" y="645" width="1" height="26" fill="#c0c0c0" />
<rect x="869" y="645" width="1" height="27" fill="#c0c0c0" />
<rect x="877" y="645" width="1" height="27" fill="#c0c0c0" />
<rect x="885" y="645" width="1" height="26" fill="#c0c0c0" />
<rect x="893" y="645" width="1" height="27" fill="#c0c0c0" />
<rect x="901" y="645" width="1" height="27" fill="#c0c0c0" />
<rect x="909" y="645" width="1" height="28" fill="#c0c0c0" />
<rect x="917" y="645" width="1" height="28" fill="#c0c0c0" />
<rect x="925" y="645" width="1" height="27" fill="#c0c0c0" />
<rect x="933" y="645" width="1" height="26" fill="#c0c0c0" />
<rect x="941" y="645" width="1" height="26" fill="#c0c0c0" />
<rect x="949" y="645" width="1" height="26" fill="#c0c0c0" />
<rect x="957" y="645" width="1" height="25" fill="#c0c0c0" />
<rect x="965" y="645" width="1" height="32" fill="#c0c0c0" />
<rect x="973" y="645" width="1" height="37" fill="#c0c0c0" />
<rect x="981" y="645" width="1" height="42" fill="#c0c0c0" />
<rect x="989" y="645" width="1" height="53" fill="#c0c0c0" />
<rect x="997" y="645" width="1" height="64" fill="#c0c0c0" />
<rect x="1005" y="645" width="1" height="74" fill="#c0c0c0" />
<rect x="1013" y="645" width="1" height="78" fill="#c0c0c0" />
<rect x="1021" y="645" width="1" height="80" fill="#c0c0c0" />
<rect x="1029" y="645" width="1" height="77" fill="#c0c0c0" />
<rect x="1037" y="645" width="1" height="75" fill="#c0c0c0" />
<rect x="1045" y="645" width="1" height="72" fill="#c0c0c0" />
<rect x="1053" y="645" width="1" height="65" fill="#c0c0c0" />
<rect x="1061" y="645" width="1" height="58" fill="#c0c0c0" />
<rect x="1069" y="645" width="1" height="51" fill="#c0c0c0" />
<rect x="1077" y="645" width="1" height="48" fill="#c0c0c0" />
<rect x="1085" y="645" width="1" height="44" fill="#c0c0c0" />
<rect x="1093" y="645" width="1" height="37" fill="#c0c0c0" />
<rect x="1101" y="645" width="1" height="34" fill="#c0c0c0" />
<rect x="1109" y="645" width="1" height="26" fill="#c0c0c0" />
<rect x="1117" y="645" width="1" height="22" fill="#c0c0c0" />
<rect x="1125" y="645" width="1" height="14" fill="#c0c0c0" />
<rect x="1133" y="645" width="1" height="1" fill="#c0c0c0" />
<rect x="1141" y="633" width="1" height="13" fill="#c0c0c0" />
<rect x="1149" y="624" width="1" height="22" fill="#c0c0c0" />
<rect x="1157" y="616" width="1" height="30" fill="#c0c0c0" />
<rect x="1165" y="609" width="1" height="37" fill="#c0c0c0" />
<rect x="1173" y="607" width="1" height="39" fill="#c0c0c0" />
<rect x="1181" y="610" width="1" height="36" fill="#c0c0c0" />
<rect x="1189" y="612" width="1" height="34" fill="#c0c0c0" />
<rect x="1197" y="622" width="1" height="24" fill="#c0c0c0" />
<rect x="1205" y="633" width="1" height="13" fill="#c0c0c0" />
<rect x="1213" y="645" width="1" height="1" fill="#c0c0c0" />
<rect x="1221" y="645" width="1" height="1" fill="#c0c0c0" />
<rect x="1229" y="645" width="1" height="3" fill="#c0c0c0" />
<rect x="1237" y="645" width="1" height="4" fill="#c0c0c0" />
<rect x="1245" y="645" width="1" height="3" fill="#c0c0c0" />
<rect x="1253" y="645" width="1" height="2" fill="#c0c0c0" />
<rect x="1261" y="645" width="1" height="3" fill="#c0c0c0" />
<rect x="1269" y="645" width="1" height="4" fill="#c0c0c0" />
<rect x="1277" y="645" width="1" height="3" fill="#c0c0c0" />
<rect x="1285" y="645" width="1" height="2" fill="#c0c0c0" />
<rect x="1293" y="645" width="1" height="1" fill="#c0c0c0" />
<rect x="1301" y="645" width="1" height="2" fill="#c0c0c0" />
<rect x="1309" y="643" width="1" height="3" fill="#c0c0c0" />
<rect x="1317" y="642" width="1" height="4" fill="#c0c0c0" />
<rect x="1325" y="639" width="1" height="7" fill="#c0c0c0" />
<rect x="1333" y="635" width="1" height="11" fill="#c0c0c0" />
<rect x="1341" y="632" width="1" height="14" fill="#c0c0c0" />
<rect x="1349" y="627" width="1" height="19" fill="#c0c0c0" />
<rect x="1357" y="626" width="1" height="20" fill="#c0c0c0" />
<rect x="1365" y="628" width="1" height="18" fill="#c0c0c0" />
<rect x="1373" y="631" width="1" height="15" fill="#c0c0c0" />
<rect x="1381" y="636" width="1" height="10" fill="#c0c0c0" />
<rect x="1389" y="641" width="1" height="5" fill="#c0c0c0" />
<rect x="1397" y="644" width="1" height="2" fill="#c0c0c0" />
<rect x="1405" y="645" width="1" height="3" fill="#c0c0c0" />
<line x1="2" y1="785.5" x2="1648" y2="785.5" stroke="#c0c0c0" stroke-width="1" stroke-dasharray="3 3"/>
<line x1="2" y1="836.5" x2="1648" y2="836.5" stroke="#c0c0c0" stroke-width="1" stroke-dasharray="3 3"/>
<line x1="2" y1="897.5" x2="1648" y2="897.5" stroke="#c0c0c0" stroke-width="1" stroke-dasharray="3 3"/>
</g>
<polyline points="0.5,615.6 13.2,615.0 32.4,612.4 53.6,609.0 70.6,606.9 85.5,605.8 106.7,605.8 130.1,605.8 147.1,608.6 166.2,611.2 176.8,610.7 191.7,608.6 204.4,603.3 217.2,598.0 227.8,594.8 238.4,590.6 251.1,589.5 263.9,589.9 276.6,592.7 289.4,595.4 302.1,598.4 314.9,602.2 325.5,606.5 336.1,612.9 346.7,620.3 350.5,623.5 361.1,633.0 373.9,645.8 386.6,659.6 397.2,671.3 408.9,681.9 420.6,691.4 432.3,701.0 444.0,710.6 456.7,719.1 469.4,725.0 481.1,730.1 493.9,732.9 505.6,730.7 517.2,723.3 531.0,710.6 545.9,697.8 558.7,686.1 571.4,674.5 584.1,664.9 596.9,657.5 613.9,650.0 626.6,646.2 643.6,644.1 673.4,644.1 690.3,646.8 700.5,647.9 713.2,649.0 726.0,651.1 749.4,651.5 762.1,653.2 774.8,656.8 787.6,661.3 798.2,664.9 811.0,670.2 823.7,674.0 832.2,676.6 844.9,677.6 864.1,676.6 883.2,674.5 904.4,671.9 921.4,671.9 934.1,672.8 942.6,671.7 961.8,671.7 974.5,674.0 989.4,676.6 997.9,681.5 1006.4,687.2 1014.9,693.6 1025.5,701.6 1036.1,708.4 1046.7,713.7 1050.5,715.2 1061.1,716.5 1073.9,713.7 1086.6,708.4 1099.4,699.9 1116.3,688.3 1129.1,679.3 1141.8,669.1 1154.6,657.5 1166.3,645.8 1177.9,633.0 1188.6,624.5 1199.2,620.3 1207.7,618.8 1220.4,620.9 1231.0,625.6 1241.7,632.0 1254.4,638.8 1265.0,644.3 1273.5,647.5 1290.5,647.9 1305.4,647.5 1320.3,645.8 1332.6,643.8 1339.0,642.8 1344.7,640.9 1351.0,638.7 1357.0,637.0 1363.1,635.3 1369.1,633.8 1375.1,632.7 1386.4,631.9 1399.2,631.9 1403.4,632.7 1405.2,634.1" fill="none" stroke="#ff0000" stroke-width="1" stroke-dasharray="3 3" shape-rendering="crispEdges"/>
<polyline points="0.5,802.4 5.5,796.7 13.5,806.0 21.5,806.0 29.5,805.0 37.5,809.9 45.5,812.0 53.5,806.4 61.5,803.9 69.5,799.6 77.5,795.5 85.5,799.6 93.5,811.2 101.5,807.4 109.5,803.7 117.5,814.1 125.5,824.0 133.5,818.2 141.5,817.8 149.5,815.7 157.5,809.9 165.5,794.6 173.5,790.5 181.5,788.4 189.5,785.4 197.5,782.3 205.5,776.9 213.5,804.8 221.5,806.8 229.5,815.7 237.5,818.8 245.5,818.8 253.5,811.6 261.5,809.9 269.5,809.9 277.5,817.8 285.5,807.9 293.5,822.9 301.5,820.9 309.5,821.9 317.5,856.6 325.5,852.9 333.5,853.9 341.5,860.7 349.5,858.7 357.5,865.3 365.5,874.6 373.5,876.0 381.5,884.9 389.5,866.7 397.5,870.0 405.5,858.0 413.5,865.7 421.5,871.5 429.5,878.7 437.5,880.1 445.5,881.8 453.5,872.5 461.5,869.0 469.5,867.7 477.5,864.8 485.5,865.9 493.5,863.8 501.5,842.5 509.5,824.0 517.5,838.8 525.5,836.8 533.5,832.8 541.5,834.9 549.5,833.9 557.5,831.8 565.5,832.8 573.5,833.9 581.5,834.9 589.5,830.2 597.5,827.1 605.5,827.1 613.5,835.3 621.5,837.8 629.5,845.0 637.5,845.0 645.5,840.5 653.5,833.3 661.5,840.5 669.5,842.5 677.5,844.6 685.5,844.2 693.5,847.7 701.5,840.1 709.5,844.6 717.5,849.8 725.5,835.9 733.5,832.8 741.5,846.1 749.5,840.9 757.5,863.6 765.5,867.7 773.5,867.7 781.5,859.7 789.5,851.2 797.5,861.1 805.5,858.0 813.5,857.0 821.5,855.4 829.5,851.8 837.5,854.9 845.5,849.2 853.5,833.3 861.5,851.8 869.5,854.9 877.5,849.8 885.5,845.2 893.5,852.9 901.5,853.9 909.5,856.0 917.5,849.8 925.5,852.9 933.5,845.2 941.5,850.8 949.5,851.8 957.5,852.9 965.5,870.0 973.5,872.9 981.5,873.9 989.5,886.9 997.5,890.0 1005.5,893.1 1013.5,883.8 1021.5,875.8 1029.5,860.7 1037.5,863.6 1045.5,864.8 1053.5,848.7 1061.5,846.7 1069.5,841.9 1077.5,853.9 1085.5,847.7 1093.5,837.4 1101.5,841.9 1109.5,832.6 1117.5,834.9 1125.5,826.4 1133.5,812.6 1141.5,807.4 1149.5,811.2 1157.5,807.9 1165.5,806.8 1173.5,818.2 1181.5,829.7 1189.5,828.7 1197.5,847.7 1205.5,854.9 1213.5,858.0 1221.5,837.8 1229.5,845.0 1237.5,842.1 1245.5,836.4 1253.5,835.7 1261.5,839.4 1269.5,845.0 1277.5,835.3 1285.5,833.9 1293.5,833.9 1301.5,837.8 1309.5,830.6 1317.5,832.8 1325.5,828.0 1333.5,823.9 1341.5,821.0 1349.5,818.6 1357.5,822.5 1365.5,824.3 1373.5,831.7 1381.5,847.5 1389.5,854.1 1397.5,849.3 1405.5,848.7" fill="none" stroke="#1e90ff" stroke-width="1" shape-rendering="crispEdges"/>
<line x1="1355.0" y1="349.0" x2="1415.5" y2="476.7" stroke="#ff0000" stroke-width="3.2"/>
<polygon points="1420.2,486.6 1411.4,478.6 1419.6,474.7" fill="#ff0000"/>
<line x1="1352.7" y1="621.2" x2="1405.7" y2="641.7" stroke="#ff0000" stroke-width="3.2"/>
<polygon points="1416.0,645.7 1404.1,645.9 1407.4,637.5" fill="#ff0000"/>
<line x1="1338.7" y1="817.8" x2="1400.4" y2="850.5" stroke="#ff0000" stroke-width="3.2"/>
<polygon points="1410.1,855.7 1398.3,854.5 1402.5,846.6" fill="#ff0000"/>
<g shape-rendering="crispEdges">
<rect x="0" y="22" width="1649" height="1" fill="#000" />
<rect x="1648" y="22" width="1" height="902" fill="#000" />
<rect x="0" y="571" width="1649" height="1" fill="#000" />
<rect x="0" y="573" width="1649" height="1" fill="#000" />
<rect x="0" y="747" width="1649" height="1" fill="#000" />
<rect x="0" y="749" width="1649" height="1" fill="#000" />
<rect x="0" y="923" width="1651" height="1" fill="#000" />
<polygon points="1409,23 1419,23 1414,28" fill="#c0c0c0"/>
</g>
<g shape-rendering="crispEdges">
<rect x="1649" y="40" width="2" height="1" fill="#000" />
<rect x="1649" y="73" width="2" height="1" fill="#000" />
<rect x="1649" y="106" width="2" height="1" fill="#000" />
<rect x="1649" y="140" width="2" height="1" fill="#000" />
<rect x="1649" y="172" width="2" height="1" fill="#000" />
<rect x="1649" y="205" width="2" height="1" fill="#000" />
<rect x="1649" y="238" width="2" height="1" fill="#000" />
<rect x="1649" y="271" width="2" height="1" fill="#000" />
<rect x="1649" y="304" width="2" height="1" fill="#000" />
<rect x="1649" y="337" width="2" height="1" fill="#000" />
<rect x="1649" y="371" width="2" height="1" fill="#000" />
<rect x="1649" y="403" width="2" height="1" fill="#000" />
<rect x="1649" y="436" width="2" height="1" fill="#000" />
<rect x="1649" y="470" width="2" height="1" fill="#000" />
<rect x="1649" y="503" width="2" height="1" fill="#000" />
<rect x="1649" y="535" width="2" height="1" fill="#000" />
<rect x="1649" y="568" width="2" height="1" fill="#000" />
</g>
<text x="1654.3" y="44.3" font-size="9.7" fill="#000" textLength="32.8" lengthAdjust="spacingAndGlyphs" >168.635</text>
<text x="1654.3" y="77.3" font-size="9.7" fill="#000" textLength="32.8" lengthAdjust="spacingAndGlyphs" >167.810</text>
<text x="1654.3" y="110.3" font-size="9.7" fill="#000" textLength="32.8" lengthAdjust="spacingAndGlyphs" >166.985</text>
<text x="1654.3" y="144.3" font-size="9.7" fill="#000" textLength="32.8" lengthAdjust="spacingAndGlyphs" >166.135</text>
<text x="1654.3" y="176.3" font-size="9.7" fill="#000" textLength="32.8" lengthAdjust="spacingAndGlyphs" >165.310</text>
<text x="1654.3" y="209.3" font-size="9.7" fill="#000" textLength="32.8" lengthAdjust="spacingAndGlyphs" >164.485</text>
<text x="1654.3" y="242.3" font-size="9.7" fill="#000" textLength="32.8" lengthAdjust="spacingAndGlyphs" >163.660</text>
<text x="1654.3" y="275.3" font-size="9.7" fill="#000" textLength="32.8" lengthAdjust="spacingAndGlyphs" >162.810</text>
<text x="1654.3" y="308.3" font-size="9.7" fill="#000" textLength="32.8" lengthAdjust="spacingAndGlyphs" >161.985</text>
<text x="1654.3" y="341.3" font-size="9.7" fill="#000" textLength="32.8" lengthAdjust="spacingAndGlyphs" >161.160</text>
<text x="1654.3" y="375.3" font-size="9.7" fill="#000" textLength="32.8" lengthAdjust="spacingAndGlyphs" >160.310</text>
<text x="1654.3" y="407.3" font-size="9.7" fill="#000" textLength="32.8" lengthAdjust="spacingAndGlyphs" >159.485</text>
<text x="1654.3" y="440.3" font-size="9.7" fill="#000" textLength="32.8" lengthAdjust="spacingAndGlyphs" >158.660</text>
<text x="1654.3" y="474.3" font-size="9.7" fill="#000" textLength="32.8" lengthAdjust="spacingAndGlyphs" >157.810</text>
<text x="1654.3" y="507.3" font-size="9.7" fill="#000" textLength="32.8" lengthAdjust="spacingAndGlyphs" >156.985</text>
<text x="1654.3" y="539.3" font-size="9.7" fill="#000" textLength="32.8" lengthAdjust="spacingAndGlyphs" >156.160</text>
<text x="1654.3" y="572.3" font-size="9.7" fill="#000" textLength="32.8" lengthAdjust="spacingAndGlyphs" >155.335</text>
<rect x="1643.5" y="335.5" width="4" height="4" fill="#fff" stroke="#ff0000" shape-rendering="crispEdges"/>
<rect x="1643.5" y="374.5" width="4" height="4" fill="#fff" stroke="#ff0000" shape-rendering="crispEdges"/>
<rect x="1643.5" y="405.5" width="4" height="4" fill="#fff" stroke="#32cd32" shape-rendering="crispEdges"/>
<rect x="1643.5" y="454.5" width="4" height="4" fill="#fff" stroke="#0000ff" shape-rendering="crispEdges"/>
<rect x="1643.5" y="487.5" width="4" height="4" fill="#fff" stroke="#0000ff" shape-rendering="crispEdges"/>
<rect x="1650" y="331" width="41" height="11" fill="#ff0000" shape-rendering="crispEdges"/>
<text x="1654.3" y="340.9" font-size="9.7" fill="#fff" textLength="32.8" lengthAdjust="spacingAndGlyphs" >161.153</text>
<rect x="1650" y="370" width="41" height="11" fill="#ff0000" shape-rendering="crispEdges"/>
<text x="1654.3" y="379.9" font-size="9.7" fill="#fff" textLength="32.8" lengthAdjust="spacingAndGlyphs" >160.171</text>
<rect x="1650" y="401" width="41" height="11" fill="#32cd32" shape-rendering="crispEdges"/>
<text x="1654.3" y="410.9" font-size="9.7" fill="#fff" textLength="32.8" lengthAdjust="spacingAndGlyphs" >159.390</text>
<rect x="1650" y="417" width="41" height="11" fill="#000" shape-rendering="crispEdges"/>
<text x="1654.3" y="426.9" font-size="9.7" fill="#fff" textLength="32.8" lengthAdjust="spacingAndGlyphs" >159.011</text>
<rect x="1650" y="450" width="41" height="11" fill="#0000ff" shape-rendering="crispEdges"/>
<text x="1654.3" y="459.9" font-size="9.7" fill="#fff" textLength="32.8" lengthAdjust="spacingAndGlyphs" >158.156</text>
<rect x="1650" y="483" width="41" height="11" fill="#0000ff" shape-rendering="crispEdges"/>
<text x="1654.3" y="492.9" font-size="9.7" fill="#fff" textLength="32.8" lengthAdjust="spacingAndGlyphs" >157.325</text>
<g shape-rendering="crispEdges">
<rect x="1649" y="577" width="2" height="1" fill="#000" />
<rect x="1649" y="645" width="2" height="1" fill="#000" />
<rect x="1649" y="744" width="2" height="1" fill="#000" />
<rect x="1649" y="785" width="2" height="1" fill="#000" />
<rect x="1649" y="836" width="2" height="1" fill="#000" />
<rect x="1649" y="897" width="2" height="1" fill="#000" />
</g>
<text x="1652.3" y="584" font-size="10" fill="#000" textLength="27.5" lengthAdjust="spacingAndGlyphs" >1.0643</text>
<text x="1652.3" y="649" font-size="10" fill="#000" textLength="18.5" lengthAdjust="spacingAndGlyphs" >0.00</text>
<text x="1651.5" y="744" font-size="10" fill="#000" textLength="31.5" lengthAdjust="spacingAndGlyphs" >-1.5495</text>
<text x="1652.3" y="760.5" font-size="10" fill="#000" textLength="14.5" lengthAdjust="spacingAndGlyphs" >100</text>
<text x="1652.3" y="789" font-size="10" fill="#000" textLength="9.7" lengthAdjust="spacingAndGlyphs" >80</text>
<text x="1652.3" y="840" font-size="10" fill="#000" textLength="9.7" lengthAdjust="spacingAndGlyphs" >50</text>
<text x="1652.3" y="901" font-size="10" fill="#000" textLength="9.7" lengthAdjust="spacingAndGlyphs" >15</text>
<text x="1652.3" y="920" font-size="10" fill="#000" textLength="4.8" lengthAdjust="spacingAndGlyphs" >0</text>
<g shape-rendering="crispEdges">
<rect x="53" y="924" width="1" height="4" fill="#000" />
<rect x="117" y="924" width="1" height="4" fill="#000" />
<rect x="181" y="924" width="1" height="4" fill="#000" />
<rect x="245" y="924" width="1" height="4" fill="#000" />
<rect x="309" y="924" width="1" height="4" fill="#000" />
<rect x="373" y="924" width="1" height="4" fill="#000" />
<rect x="437" y="924" width="1" height="4" fill="#000" />
<rect x="501" y="924" width="1" height="4" fill="#000" />
<rect x="565" y="924" width="1" height="4" fill="#000" />
<rect x="629" y="924" width="1" height="4" fill="#000" />
<rect x="693" y="924" width="1" height="4" fill="#000" />
<rect x="757" y="924" width="1" height="4" fill="#000" />
<rect x="821" y="924" width="1" height="4" fill="#000" />
<rect x="885" y="924" width="1" height="4" fill="#000" />
<rect x="949" y="924" width="1" height="4" fill="#000" />
<rect x="1013" y="924" width="1" height="4" fill="#000" />
<rect x="1077" y="924" width="1" height="4" fill="#000" />
<rect x="1141" y="924" width="1" height="4" fill="#000" />
<rect x="1205" y="924" width="1" height="4" fill="#000" />
<rect x="1269" y="924" width="1" height="4" fill="#000" />
<rect x="1333" y="924" width="1" height="4" fill="#000" />
<rect x="1397" y="924" width="1" height="4" fill="#000" />
</g>
<text x="-11.3" y="936.5" font-size="10" fill="#000" textLength="49.8" lengthAdjust="spacingAndGlyphs" >13 Apr 2022</text>
<text x="52.7" y="936.5" font-size="10" fill="#000" textLength="53.2" lengthAdjust="spacingAndGlyphs" >14 Apr 16:00</text>
<text x="116.7" y="936.5" font-size="10" fill="#000" textLength="53.2" lengthAdjust="spacingAndGlyphs" >18 Apr 00:00</text>
<text x="180.7" y="936.5" font-size="10" fill="#000" textLength="53.2" lengthAdjust="spacingAndGlyphs" >19 Apr 08:00</text>
<text x="244.7" y="936.5" font-size="10" fill="#000" textLength="53.2" lengthAdjust="spacingAndGlyphs" >20 Apr 16:00</text>
<text x="308.7" y="936.5" font-size="10" fill="#000" textLength="53.2" lengthAdjust="spacingAndGlyphs" >22 Apr 00:00</text>
<text x="372.7" y="936.5" font-size="10" fill="#000" textLength="53.2" lengthAdjust="spacingAndGlyphs" >25 Apr 08:00</text>
<text x="436.7" y="936.5" font-size="10" fill="#000" textLength="53.2" lengthAdjust="spacingAndGlyphs" >26 Apr 16:00</text>
<text x="500.7" y="936.5" font-size="10" fill="#000" textLength="53.2" lengthAdjust="spacingAndGlyphs" >28 Apr 00:00</text>
<text x="564.7" y="936.5" font-size="10" fill="#000" textLength="53.2" lengthAdjust="spacingAndGlyphs" >29 Apr 08:00</text>
<text x="628.7" y="936.5" font-size="10" fill="#000" textLength="52" lengthAdjust="spacingAndGlyphs" >2 May 16:00</text>
<text x="692.7" y="936.5" font-size="10" fill="#000" textLength="52" lengthAdjust="spacingAndGlyphs" >4 May 00:00</text>
<text x="756.7" y="936.5" font-size="10" fill="#000" textLength="52" lengthAdjust="spacingAndGlyphs" >5 May 08:00</text>
<text x="820.7" y="936.5" font-size="10" fill="#000" textLength="52" lengthAdjust="spacingAndGlyphs" >6 May 16:00</text>
<text x="884.7" y="936.5" font-size="10" fill="#000" textLength="56.6" lengthAdjust="spacingAndGlyphs" >10 May 00:00</text>
<text x="948.7" y="936.5" font-size="10" fill="#000" textLength="56.6" lengthAdjust="spacingAndGlyphs" >11 May 08:00</text>
<text x="1012.7" y="936.5" font-size="10" fill="#000" textLength="56.6" lengthAdjust="spacingAndGlyphs" >12 May 16:00</text>
<text x="1076.7" y="936.5" font-size="10" fill="#000" textLength="56.6" lengthAdjust="spacingAndGlyphs" >16 May 00:00</text>
<text x="1140.7" y="936.5" font-size="10" fill="#000" textLength="56.6" lengthAdjust="spacingAndGlyphs" >17 May 08:00</text>
<text x="1204.7" y="936.5" font-size="10" fill="#000" textLength="56.6" lengthAdjust="spacingAndGlyphs" >18 May 16:00</text>
<text x="1268.7" y="936.5" font-size="10" fill="#000" textLength="56.6" lengthAdjust="spacingAndGlyphs" >20 May 00:00</text>
<text x="1332.7" y="936.5" font-size="10" fill="#000" textLength="56.6" lengthAdjust="spacingAndGlyphs" >23 May 08:00</text>
<text x="1396.7" y="936.5" font-size="10" fill="#000" textLength="56.6" lengthAdjust="spacingAndGlyphs" >24 May 16:00</text>
<text x="4.3" y="34" font-size="10" fill="#000" textLength="199.5" lengthAdjust="spacingAndGlyphs" xml:space="preserve">GBPJPY-,H4&#160;&#160;159.005 159.055 158.901 159.011</text>
<text x="-7" y="586" font-size="10" fill="#000" textLength="130.8" lengthAdjust="spacingAndGlyphs" >MACD(12,26,9) -0.0562 0.1783</text>
<text x="-6.8" y="762.5" font-size="10" fill="#000" textLength="67.8" lengthAdjust="spacingAndGlyphs" >RSI(14) 43.3824</text>
<defs>
<linearGradient id="gb1" x1="0" y1="0" x2="0" y2="1"><stop offset="0" stop-color="#5a5aff"/><stop offset="1" stop-color="#3c3ce6"/></linearGradient>
<linearGradient id="gb2" x1="0" y1="0" x2="0" y2="1"><stop offset="0" stop-color="#3a3ae0"/><stop offset="0.55" stop-color="#1010c8"/><stop offset="1" stop-color="#0000a8"/></linearGradient>
<linearGradient id="gbtn" x1="0" y1="0" x2="0" y2="1"><stop offset="0" stop-color="#f2f2f2"/><stop offset="0.5" stop-color="#dcdcdc"/><stop offset="1" stop-color="#cfcfcf"/></linearGradient>
</defs>
<g shape-rendering="crispEdges">
<rect x="0" y="41" width="213" height="60" fill="#fff" />
<rect x="0" y="42" width="44" height="24" fill="url(#gb1)" />
<rect x="159" y="42" width="52" height="24" fill="url(#gb1)" />
<rect x="0" y="66" width="101" height="33" fill="url(#gb2)" />
<rect x="103" y="66" width="108" height="33" fill="url(#gb2)" />
<rect x="0" y="65" width="40" height="1" fill="#8c8cff" />
<rect x="163" y="65" width="44" height="1" fill="#8c8cff" />
<rect x="44" y="42" width="115" height="24" fill="#f0f0f0" />
<rect x="46" y="43" width="111" height="21" fill="#fff" />
<rect x="46.5" y="43.5" width="110" height="20" fill="none" stroke="#b4b4b4"/>
<rect x="47" y="44" width="20" height="19" fill="url(#gbtn)" />
<rect x="47.5" y="44.5" width="19" height="18" fill="none" stroke="#c4c4c4"/>
<rect x="136" y="44" width="20" height="19" fill="url(#gbtn)" />
<rect x="136.5" y="44.5" width="19" height="18" fill="none" stroke="#c4c4c4"/>
</g>
<polygon points="53.5,51 59.5,51 56.5,54.5" fill="#4a5fc0"/>
<polygon points="142.5,54 148.5,54 145.5,50.5" fill="#4a5fc0"/>
<text x="4.5" y="58" font-size="12" fill="#fff" textLength="25.5" lengthAdjust="spacingAndGlyphs" >SELL</text>
<text x="172.8" y="58" font-size="12" fill="#fff" textLength="22.5" lengthAdjust="spacingAndGlyphs" >BUY</text>
<text x="108.5" y="57" font-size="12.5" fill="#000" textLength="22.5" lengthAdjust="spacingAndGlyphs" >1.00</text>
<text x="15.5" y="94" font-size="11" fill="#fff" textLength="20" lengthAdjust="spacingAndGlyphs" font-weight="bold" >159</text>
<text x="39.5" y="94.5" font-size="34.5" fill="#fff" textLength="35" lengthAdjust="spacingAndGlyphs" >01</text>
<text x="79.5" y="78" font-size="10.5" fill="#fff" textLength="6" lengthAdjust="spacingAndGlyphs" font-weight="bold" >1</text>
<text x="125.5" y="94" font-size="11" fill="#fff" textLength="20" lengthAdjust="spacingAndGlyphs" font-weight="bold" >159</text>
<text x="150" y="94.5" font-size="34.5" fill="#fff" textLength="36" lengthAdjust="spacingAndGlyphs" >07</text>
<text x="190.5" y="78" font-size="10.5" fill="#fff" textLength="6" lengthAdjust="spacingAndGlyphs" font-weight="bold" >5</text>
<g shape-rendering="crispEdges">
<rect x="0" y="0" width="1695" height="18" fill="#f0f0f0" />
<rect x="0" y="18" width="1695" height="1" fill="#c8c8c8" />
<rect x="0" y="19" width="1695" height="1" fill="#8c8c8c" />
<rect x="0" y="20" width="1695" height="2" fill="#fff" />
<rect x="1694" y="20" width="1" height="918" fill="#e3e3e3" />
</g>
<!-- toolbar icons -->
<g id="tb">
<g shape-rendering="crispEdges">
<rect x="9" y="0" width="1" height="16" fill="#a0a0a0"/>
<rect x="298" y="0" width="1" height="16" fill="#a0a0a0"/>
<rect x="393" y="0" width="1" height="16" fill="#a0a0a0"/>
<rect x="483" y="0" width="1" height="16" fill="#a0a0a0"/>
<rect x="545" y="0" width="1" height="16" fill="#a0a0a0"/>
<rect x="667" y="0" width="1" height="16" fill="#a0a0a0"/>
<rect x="733" y="0" width="1" height="16" fill="#a0a0a0"/>
<rect x="972" y="0" width="1" height="16" fill="#a0a0a0"/>
<rect x="1122" y="0" width="1" height="16" fill="#a0a0a0"/>
<rect x="1233" y="0" width="1" height="16" fill="#a0a0a0"/>
<!-- grips -->
<g fill="#b0b0b0">
<rect x="301" y="1" width="3" height="1"/><rect x="301" y="3" width="3" height="1"/><rect x="301" y="5" width="3" height="1"/><rect x="301" y="7" width="3" height="1"/><rect x="301" y="9" width="3" height="1"/><rect x="301" y="11" width="3" height="1"/><rect x="301" y="13" width="3" height="1"/>
<rect x="669" y="1" width="3" height="1"/><rect x="669" y="3" width="3" height="1"/><rect x="669" y="5" width="3" height="1"/><rect x="669" y="7" width="3" height="1"/><rect x="669" y="9" width="3" height="1"/><rect x="669" y="11" width="3" height="1"/><rect x="669" y="13" width="3" height="1"/>
<rect x="976" y="1" width="3" height="1"/><rect x="976" y="3" width="3" height="1"/><rect x="976" y="5" width="3" height="1"/><rect x="976" y="7" width="3" height="1"/><rect x="976" y="9" width="3" height="1"/><rect x="976" y="11" width="3" height="1"/><rect x="976" y="13" width="3" height="1"/>
</g>
<!-- selected button backgrounds -->
<rect x="336" y="0" width="24" height="16" fill="#f8f8f8"/>
<rect x="335" y="0" width="1" height="16" fill="#a8a8a8"/>
<rect x="487" y="0" width="26" height="16" fill="#f8f8f8"/>
<rect x="516" y="0" width="1" height="16" fill="#b8b8b8"/>
<rect x="519" y="0" width="22" height="16" fill="#f8f8f8"/>
<rect x="676" y="0" width="25" height="16" fill="#f8f8f8"/>
<rect x="1123" y="0" width="25" height="16" fill="#f8f8f8"/>
</g>
<!-- left diamond + dot -->
<path d="M2.6 3.8 L4.3 5.5 L2.6 7.2 L0.9 5.5 Z" fill="#fff" stroke="#000" stroke-width="0.8"/>
<circle cx="0.3" cy="14" r="1.8" fill="#c8901a"/>
<!-- new order icon -->
<path d="M19.5 -1 H27.5 L30.5 2 V11.5 H19.5 Z" fill="#fff" stroke="#8a8a8a" stroke-width="1"/>
<rect x="21" y="0" width="2.5" height="2" fill="#8a8a8a"/>
<path d="M21.5 5 H27.5 M21.5 6.7 H26.5 M21.5 8.3 H25" stroke="#9a9a9a" stroke-width="0.9"/>
<path d="M27 4.5 H31 V8.3 H34.8 V12.2 H31 V16 H27 V12.2 H23.5 V8.3 H27 Z" fill="#2fd02f" stroke="#0c8c0c" stroke-width="0.9"/>
<!-- gold book -->
<defs>
<linearGradient id="gold" x1="0" y1="0" x2="1" y2="1"><stop offset="0" stop-color="#f2c02a"/><stop offset="0.45" stop-color="#fbe36a"/><stop offset="1" stop-color="#d79a14"/></linearGradient>
<linearGradient id="cloudg" x1="0" y1="0" x2="0" y2="1"><stop offset="0" stop-color="#ffffff"/><stop offset="1" stop-color="#c8d2e4"/></linearGradient>
<linearGradient id="yel" x1="0" y1="0" x2="1" y2="1"><stop offset="0" stop-color="#fff08a"/><stop offset="1" stop-color="#e6a818"/></linearGradient>
<radialGradient id="redg" cx="0.5" cy="0.4" r="0.6"><stop offset="0" stop-color="#f04030"/><stop offset="1" stop-color="#b81408"/></radialGradient>
</defs>
<path d="M115.2 8 L122.6 12.6 L130.6 7 L130.6 8.8 L122.8 14.2 L115.2 9.4 Z" fill="#a86e12"/>
<path d="M119.8 -1 L123.4 -1 L130.6 6.9 L122.6 12.6 L115.2 8 Z" fill="url(#gold)" stroke="#b07a14" stroke-width="0.8"/>
<path d="M117 8.2 L122.7 11.6 L129 7.2" stroke="#fff3c0" stroke-width="0.7" fill="none"/>
<!-- cloud doc -->
<rect x="145" y="-1" width="11" height="8" fill="#bfe2ff"/>
<rect x="145" y="-1" width="3.6" height="8" fill="#1a9aff"/>
<rect x="149.5" y="0.5" width="6.5" height="1.6" fill="#3aa6ff"/><rect x="149.5" y="3" width="5" height="1.4" fill="#6abaff"/>
<path d="M145.6 13.2 a2.9 2.9 0 0 1 -0.2 -5.6 a3.3 3.3 0 0 1 4.6 -1.2 a3.6 3.6 0 0 1 5.6 0.8 a2.8 2.8 0 0 1 1.4 5.4 a1.6 1.6 0 0 1 -0.8 0.6 Z" fill="url(#cloudg)" stroke="#4a6aa8" stroke-width="0.9"/>
<!-- signal -->
<circle cx="179" cy="5.5" r="7.4" fill="none" stroke="#a8bfea" stroke-width="1"/>
<circle cx="179" cy="5.5" r="4.7" fill="none" stroke="#6a92de" stroke-width="1.1"/>
<path d="M179.4 5.8 L179.4 13.3 A7.8 7.8 0 0 0 186.6 4 Z" fill="#a9d6a2" fill-opacity="0.85"/>
<path d="M180 13.3 A7.8 7.8 0 0 0 186.6 4.5" fill="none" stroke="#6fb86a" stroke-width="1.1"/>
<circle cx="179" cy="5.3" r="1.8" fill="#2f5fd0"/>
<path d="M179.5 6 V13.6" stroke="#22a522" stroke-width="1.4"/>
<!-- autotrading -->
<path d="M198.2 4.6 Q206 7.6 213.8 4.6 L209 11 L205 13.2 Z" fill="url(#yel)" stroke="#d0a020" stroke-width="0.5"/>
<ellipse cx="206" cy="2.2" rx="7.6" ry="3" fill="#4aaee6" stroke="#2a86c6" stroke-width="0.6"/>
<ellipse cx="206" cy="0.4" rx="4" ry="2.4" fill="#86cdf2"/>
<circle cx="210.6" cy="9.7" r="4.1" fill="url(#redg)"/>
<rect x="209.3" y="8.4" width="2.7" height="2.6" fill="#fff"/>
</g>

<g id="tb2">
<text x="38.6" y="8.5" font-size="12" fill="#000" textLength="64.3" lengthAdjust="spacingAndGlyphs">New Order</text>
<text x="219.4" y="8.5" font-size="12" fill="#000" textLength="70.6" lengthAdjust="spacingAndGlyphs">AutoTrading</text>
<!-- chart type icons -->
<g stroke="#505050" stroke-width="1.3" fill="none">
<path d="M316.5 0 V13.8 M314 11.7 H327"/><path d="M496.5 0 V13.8 M494 11.7 H507"/>
<path d="M344.4 0 V13.8 M342 11.7 H355"/><path d="M524.5 0 V13.8 M522 11.7 H535"/>
<path d="M372.3 0 V13.8 M370 11.7 H383"/>
</g>
<g fill="#505050">
<path d="M326.5 9.9 L328.6 11.7 L326.5 13.5 Z"/><path d="M354.5 9.9 L356.6 11.7 L354.5 13.5 Z"/><path d="M382.5 9.9 L384.6 11.7 L382.5 13.5 Z"/>
<path d="M506.5 9.9 L508.6 11.7 L506.5 13.5 Z"/><path d="M534.5 9.9 L536.6 11.7 L534.5 13.5 Z"/>
<path d="M314.8 2 L316.5 0 L318.2 2 Z"/><path d="M342.7 2 L344.4 0 L346.1 2 Z"/><path d="M370.6 2 L372.3 0 L374 2 Z"/>
<path d="M494.8 2 L496.5 0 L498.2 2 Z"/><path d="M522.8 2 L524.5 0 L526.2 2 Z"/>
</g>
<path d="M322.6 1.3 V9.7 M322.6 2.6 H325.2 M320 8.4 H322.6" stroke="#1a9a1a" stroke-width="1.3" fill="none"/>
<rect x="348.4" y="-1" width="4.4" height="8.8" fill="#6ee46e" stroke="#129012" stroke-width="0.9"/>
<path d="M350.6 7.8 V9.8" stroke="#129012" stroke-width="1.2"/>
<path d="M371.3 8.6 C374 6.5 375.5 3.2 377.5 3.2 C379.5 3.2 381 6.5 383 7.2" stroke="#2aa02a" stroke-width="1.3" fill="none"/>
<!-- zoom in / out -->
<g>
<path d="M411.6 8.4 L417 12.8" stroke="#d4b020" stroke-width="2.6" stroke-linecap="round"/>
<circle cx="408" cy="3.9" r="5.5" fill="#d4ebfb" stroke="#2a74c8" stroke-width="1.2"/>
<path d="M405 3.9 H411 M408 0.9 V6.9" stroke="#3a7ab0" stroke-width="1.5"/>
<path d="M439.8 8.4 L445.2 12.8" stroke="#d4b020" stroke-width="2.6" stroke-linecap="round"/>
<circle cx="436.2" cy="3.9" r="5.5" fill="#d4ebfb" stroke="#2a74c8" stroke-width="1.2"/>
<path d="M433.2 3.9 H439.2" stroke="#3a7ab0" stroke-width="1.5"/>
</g>
<!-- grid -->
<g shape-rendering="crispEdges">
<rect x="458" y="-1" width="8" height="7" fill="#3aa41e"/><rect x="466" y="-1" width="8" height="7" fill="#2a52d2"/>
<rect x="458" y="6" width="8" height="8" fill="#2a52d2"/><rect x="466" y="6" width="8" height="8" fill="#3aa41e"/>
<rect x="459" y="1" width="6" height="4" fill="#fff"/><rect x="467" y="1" width="6" height="4" fill="#fff"/>
<rect x="459" y="9" width="6" height="4" fill="#fff"/><rect x="467" y="9" width="6" height="4" fill="#fff"/>
<rect x="460" y="2" width="4" height="1" fill="#9ad48a"/><rect x="468" y="2" width="4" height="1" fill="#9ab0ee"/>
<rect x="460" y="10" width="4" height="1" fill="#9ab0ee"/><rect x="468" y="10" width="4" height="1" fill="#9ad48a"/>
</g>
<!-- scroll / shift icons -->
<path d="M501.3 2.3 L505 5.5 L501.3 8.8 Z" fill="#7ee07e" stroke="#1a9a1a" stroke-width="0.9"/>
<path d="M530.5 0 V9.8" stroke="#1f6fb0" stroke-width="1.3"/>
<path d="M531.5 5.5 L534.3 3.6 V4.9 H536 V6.1 H534.3 V7.4 Z" fill="#e04810"/>
<!-- doc plus -->
<path d="M555.5 -1 H563.5 L566.5 2 V11.5 H555.5 Z" fill="#fff" stroke="#8a8a8a" stroke-width="1"/>
<path d="M557.5 2 V8" stroke="#7a6a4a" stroke-width="1"/>
<path d="M563 4.5 H567 V8.3 H570.8 V12.2 H567 V16 H563 V12.2 H559.5 V8.3 H563 Z" fill="#2fd02f" stroke="#0c8c0c" stroke-width="0.9"/>
<g fill="#000">
<path d="M577 4.9 H582.2 L579.6 8.1 Z"/><path d="M615.8 4.9 H621 L618.4 8.1 Z"/><path d="M654.8 4.9 H660.2 L657.5 8.1 Z"/><path d="M960.9 4.9 H966.1 L963.5 8.1 Z"/>
</g>
<!-- clock -->
<circle cx="600.9" cy="5.5" r="7" fill="#fff" stroke="#1f7fe0" stroke-width="2.2"/>
<circle cx="600.9" cy="5.5" r="8" fill="none" stroke="#1560b8" stroke-width="0.6"/>
<path d="M600.4 2 V6 H603.4" stroke="#111" stroke-width="1.1" fill="none"/>
<!-- indicators -->
<rect x="632.5" y="-1" width="15.5" height="13.5" fill="#fff" stroke="#3a7ac8" stroke-width="1"/>
<rect x="632.5" y="-1" width="15.5" height="2.3" fill="#4a8ad8"/>
<path d="M632.5 7.5 H648" stroke="#3a7ac8" stroke-width="0.9"/>
<path d="M634.5 5.3 L637 5 L639 3.9 L641 3.4 L642.5 4.4 L644.5 4.2 L646.2 3.2" stroke="#b02010" stroke-width="1.1" fill="none"/>
<path d="M635 10.5 L637.5 9.6 L639.5 10.4 L642 8.6 L643.5 8.2 L645.8 10.5" stroke="#159015" stroke-width="1.1" fill="none"/>
<!-- cursor -->
<path d="M684.3 -1 V9.8 L686.6 7.6 L689.4 13.2 L690.9 12.3 L688.6 7 L692 6.6 Z" fill="#4a4a4a"/>
<!-- crosshair -->
<path d="M709 6.5 H715 M718 6.5 H724 M716.4 0 V5 M716.4 8 V14" stroke="#4a4a4a" stroke-width="1.3"/>
<path d="M750.5 0 V13" stroke="#404040" stroke-width="1.4"/>
<path d="M772.8 6.5 H785.2" stroke="#404040" stroke-width="1.4"/>
<path d="M800.7 13 L813 0.6" stroke="#404040" stroke-width="1.2"/>
<!-- channel -->
<g stroke="#404040" stroke-width="1" fill="none">
<path d="M826.8 7.8 L838 -1 M829 11.6 L841 1.8 M831.5 13 L841.2 5"/>
<path d="M830.5 5 L829.6 11 M833.5 2.6 L832.6 9 M836.5 0.6 L835.6 6.6 M839.5 -1 L838.8 4"/>
</g>
<text x="838" y="14.8" font-size="6.5" font-weight="bold" fill="#202020">E</text>
<!-- fibo -->
<g stroke="#404040" stroke-width="1" stroke-dasharray="1 1" shape-rendering="crispEdges">
<path d="M856 2.5 H870 M856 6.5 H870 M856 10.5 H866"/>
</g>
<text x="865.8" y="14.8" font-size="6.5" font-weight="bold" fill="#202020">F</text>
<text x="886.3" y="10.8" font-size="12" fill="#505050" textLength="8.4" lengthAdjust="spacingAndGlyphs">A</text>
<rect x="913.5" y="0.5" width="11" height="12" fill="none" stroke="#404040" stroke-width="1" stroke-dasharray="1 1" shape-rendering="crispEdges"/>
<text x="915.3" y="10.8" font-size="11" fill="#505050" textLength="7.6" lengthAdjust="spacingAndGlyphs">T</text>
<!-- arrows icon -->
<path d="M943.3 -0.5 L946.8 3 L943.3 5 L939.8 3 Z" fill="#4a4a4a"/>
<path d="M950.6 12.8 L947 9.2 L950.6 7.6 L954.2 9.2 Z" fill="#4a4a4a"/>
<path d="M942.5 7.5 L944.6 9.6 L949 4.2" stroke="#4a4a4a" stroke-width="1.2" fill="none"/>
<!-- periods -->
<g font-size="9" fill="#444">
<text x="987.3" y="9.6" textLength="13">M1</text><text x="1015.2" y="9.6" textLength="13">M5</text>
<text x="1041.2" y="9.6" textLength="18">M15</text><text x="1069.4" y="9.6" textLength="18">M30</text>
<text x="1100.4" y="9.6" textLength="11.8">H1</text><text x="1127.5" y="9.6" textLength="12">H4</text>
<text x="1156.5" y="9.6" textLength="11.8">D1</text><text x="1184" y="9.6" textLength="14.6">W1</text>
<text x="1210.6" y="9.6" textLength="15">MN</text>
</g>
<!-- search + chat -->
<path d="M1648 6 L1642.8 11.2" stroke="#2a5fd0" stroke-width="2.2" stroke-linecap="round"/>
<circle cx="1651.1" cy="3.3" r="3.7" fill="#fff" stroke="#2a5fd0" stroke-width="1.5"/>
<path d="M1667.5 8 a6 4.6 0 0 1 12 0 a6 4.6 0 0 1 -7 4.4 l-2.5 2 l0.3 -2.6 a5.5 4.4 0 0 1 -2.8 -3.8 Z" fill="#dcdcdc" stroke="#bdbdbd" stroke-width="0.6"/>
<circle cx="1681.5" cy="3.9" r="8" fill="#e0341c"/>
<text x="1678.3" y="8" font-size="12" font-weight="bold" fill="#fff" font-family="Liberation Serif, serif" textLength="6.5" lengthAdjust="spacingAndGlyphs">1</text>
</g>

</svg>
</body></html>
